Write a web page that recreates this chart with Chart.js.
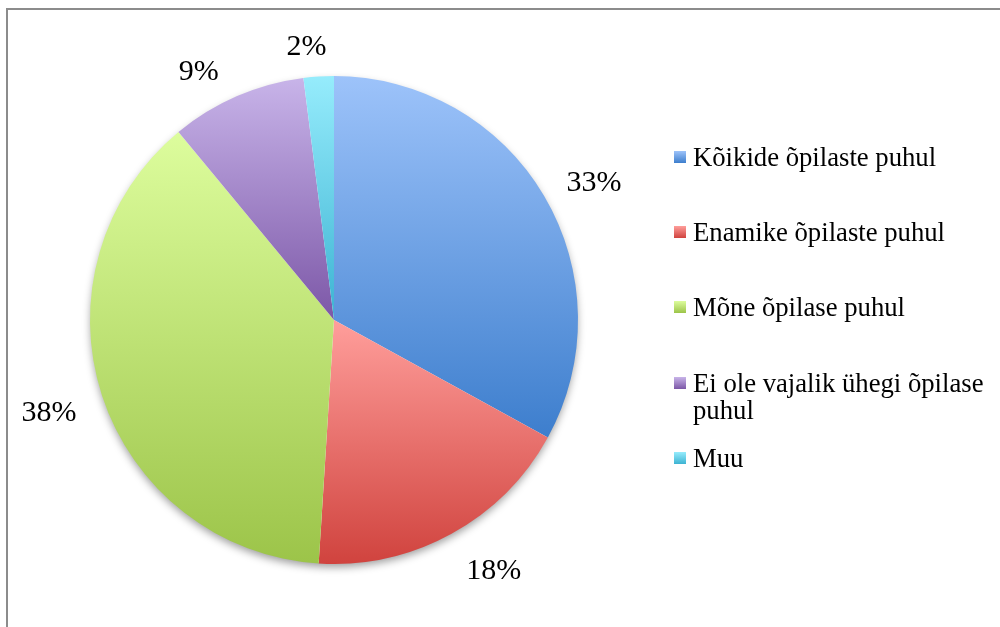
<!DOCTYPE html>
<html>
<head>
<meta charset="utf-8">
<script src="https://cdn.jsdelivr.net/npm/chart.js@4.4.0/dist/chart.umd.min.js"></script>
<style>
    html, body { margin: 0; padding: 0; background: #fff; }
    #wrap { position: relative; width: 1000px; height: 627px; overflow: hidden; }
    #frame {
        position: absolute; left: 6px; top: 8px; width: 1000px; height: 630px;
        border-left: 2px solid #8c8c8c; border-top: 2px solid #8c8c8c;
    }
    canvas { position: absolute; left: 0; top: 0; }
</style>
</head>
<body>
<div id="wrap">
    <div id="frame"></div>
    <canvas id="pieChart" width="1000" height="627"></canvas>
</div>
<script>
const categories = [
    'Kõikide õpilaste puhul',
    'Enamike õpilaste puhul',
    'Mõne õpilase puhul',
    'Ei ole vajalik ühegi õpilase puhul',
    'Muu'
];
const shares = [33, 18, 38, 9, 2];
const shareLabels = ['33%', '18%', '38%', '9%', '2%'];
// light (top) and dark (bottom) ends of each slice gradient
const lightColors = ['#9dc3fa', '#ff9e9b', '#ddfd9d', '#c8b4e9', '#96ecfc'];
const darkColors = ['#3d7ecd', '#d0433e', '#9cc449', '#7c57a7', '#3cb3d2'];
const legendLines = [
    ['Kõikide õpilaste puhul'],
    ['Enamike õpilaste puhul'],
    ['Mõne õpilase puhul'],
    ['Ei ole vajalik ühegi õpilase', 'puhul'],
    ['Muu']
];

const serif = '"Liberation Serif", "Times New Roman", serif';

// small per-label nudges to mimic the original label placement
const labelNudge = [[5, 12], [20, -5], [-3, -1], [-22, 12], [-10, 4]];

// vertical extent of a slice, used to stretch its gradient
function sliceRange(arc) {
    const ys = [arc.y, arc.y + arc.outerRadius * Math.sin(arc.startAngle), arc.y + arc.outerRadius * Math.sin(arc.endAngle)];
    const s = arc.startAngle, e = arc.endAngle;
    [Math.PI / 2, 3 * Math.PI / 2].forEach(t => {
        let k = t;
        while (k < s) k += 2 * Math.PI;
        if (k <= e) ys.push(arc.y + arc.outerRadius * Math.sin(k));
    });
    return [Math.min(...ys), Math.max(...ys)];
}

const gradientPlugin = {
    id: 'sliceGradients',
    beforeDatasetsDraw(chart) {
        const ctx = chart.ctx;
        const meta = chart.getDatasetMeta(0);
        const first = meta.data[0];
        if (!first) return;
        // soft shadow beneath the whole pie
        ctx.save();
        ctx.shadowColor = 'rgba(0,0,0,0.4)';
        ctx.shadowBlur = 8;
        ctx.shadowOffsetY = 4;
        ctx.fillStyle = '#ffffff';
        ctx.beginPath();
        ctx.arc(first.x, first.y, first.outerRadius - 1, 0, Math.PI * 2);
        ctx.fill();
        ctx.restore();

        meta.data.forEach((arc, i) => {
            const [y0, y1] = sliceRange(arc);
            const g = ctx.createLinearGradient(0, y0, 0, y1);
            g.addColorStop(0, lightColors[i]);
            g.addColorStop(1, darkColors[i]);
            arc.options.backgroundColor = g;
        });
    }
};

const labelPlugin = {
    id: 'outsideLabels',
    afterDatasetsDraw(chart) {
        const ctx = chart.ctx;
        const meta = chart.getDatasetMeta(0);
        ctx.save();
        ctx.font = '30px ' + serif;
        ctx.fillStyle = '#000';
        ctx.textAlign = 'center';
        ctx.textBaseline = 'middle';
        meta.data.forEach((arc, i) => {
            const mid = (arc.startAngle + arc.endAngle) / 2;
            const dx = Math.cos(mid), dy = Math.sin(mid);
            const w = ctx.measureText(shareLabels[i]).width;
            const h = 22;
            const dist = arc.outerRadius + 23 + Math.abs(dx) * w / 2 + Math.abs(dy) * h / 2;
            ctx.fillText(shareLabels[i], arc.x + dx * dist + labelNudge[i][0], arc.y + dy * dist + 2 + labelNudge[i][1]);
        });
        ctx.restore();
    }
};

const legendPlugin = {
    id: 'sideLegend',
    afterDraw(chart) {
        const ctx = chart.ctx;
        const x = 674, box = 12;
        const rows = [157, 232, 307, 383, 458];
        ctx.save();
        ctx.font = '26.7px ' + serif;
        ctx.textBaseline = 'middle';
        categories.forEach((c, i) => {
            const y = rows[i];
            const g = ctx.createLinearGradient(0, y - box / 2, 0, y + box / 2);
            g.addColorStop(0, lightColors[i]);
            g.addColorStop(1, darkColors[i]);
            ctx.fillStyle = g;
            ctx.fillRect(x, y - box / 2, box, box);
            ctx.fillStyle = '#000';
            legendLines[i].forEach((line, j) => {
                ctx.fillText(line, x + 19, y + 2 + j * 27);
            });
        });
        ctx.restore();
    }
};

new Chart(document.getElementById('pieChart'), {
    type: 'pie',
    data: {
        labels: categories,
        datasets: [{
            data: shares,
            backgroundColor: darkColors,
            borderWidth: 0
        }]
    },
    options: {
        responsive: false,
        animation: false,
        layout: { padding: { left: 90, right: 422, top: 76, bottom: 63 } },
        plugins: {
            legend: { display: false },
            tooltip: { enabled: false }
        }
    },
    plugins: [gradientPlugin, labelPlugin, legendPlugin]
});
</script>
</body>
</html>
